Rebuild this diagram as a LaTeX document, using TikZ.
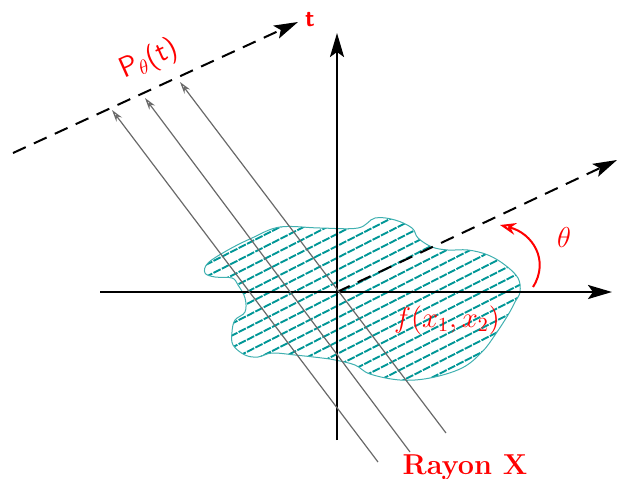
\documentclass[tikz,border=0pt]{standalone}
\usepackage{amsmath}
\usetikzlibrary{arrows.meta, calc}

\definecolor{hatchteal}{RGB}{0,150,150}
\definecolor{raygray}{RGB}{105,105,105}

% outline of the object
\newcommand{\blobshape}{plot[smooth cycle, tension=0.6] coordinates {
    (280,251) (320,250) (358,250) (375,260) (395,258) (412,250) (418,240)
    (432,231) (448,228) (468,228) (488,223) (505,213) (518,200) (520,186)
    (515,176) (508,163) (495,143) (482,126) (462,110) (430,100) (400,98)
    (370,104) (355,113) (335,118) (322,120) (295,123) (272,125) (258,121)
    (245,123) (233,133) (232,146) (235,158) (245,166) (245,180) (238,193)
    (232,200) (215,201) (205,205) (208,215) (228,228) (252,240)}}

\begin{document}
\begin{tikzpicture}[
    x=0.5pt, y=0.5pt,
    axis/.style={line width=1.2pt, -{Stealth[length=12pt, width=7pt, inset=2.5pt]}},
    dashaxis/.style={axis, line width=1pt, dash pattern=on 7pt off 4.5pt},
    ray/.style={raygray, line width=0.6pt, -{Stealth[length=6pt, width=3.5pt, open]}},
    hatch/.style={hatchteal, line width=0.95pt, dash pattern=on 4pt off 0.7pt},
    outline/.style={hatchteal!75, line width=0.5pt},
    lbl/.style={text=red, font=\Large}
]
\useasboundingbox (0,0) rectangle (619,478);

% object f(x1,x2), hatched
\begin{scope}
  \clip \blobshape;
  \foreach \c in {-20,-8,...,350}
    \draw[hatch] (180,\c-80) -- (540,\c+103.5);
\end{scope}
\draw[outline] \blobshape;

% key points
\coordinate (O) at (337,186);
\coordinate (xl) at (100,186);
\coordinate (xr) at (612,186);
\coordinate (yb) at (337,38);
\coordinate (yt) at (337,445);
\coordinate (th) at (617,318);
\coordinate (tl) at (13,325);
\coordinate (tr) at (298,456);

% axes
\draw[axis] (xl) -- (xr);
\draw[axis] (yb) -- (yt);
\draw[dashaxis] (O) -- (th);
\draw[dashaxis] (tl) -- (tr);

% rays
\foreach \i/\bx/\by/\tx/\ty in {1/378/16/112/368, 2/410/26/145/380, 3/446/45/180/396} {
  \coordinate (r\i a) at (\bx,\by);
  \coordinate (r\i b) at (\tx,\ty);
  \draw[ray] (r\i a) -- (r\i b);
}

% angle
\coordinate (a1) at (533,191);
\coordinate (a2) at (500,253);
\draw[red, line width=1pt, -{Stealth[length=8pt, width=6pt, open]}]
  (a1) .. controls (550,218) and (532,245) .. (a2);

% labels
\node[lbl, font=\sffamily\Large, rotate=24, inner sep=1pt] (ptheta) at (149,418) {P$_\theta$(t)};
\node[lbl, font=\sffamily\bfseries\large] (tlab) at (310,458) {t};
\node[lbl] (thlab) at (564,241) {$\theta$};
\node[lbl] (flab) at (447,158) {$f(x_1,x_2)$};
\node[lbl, font=\bfseries\Large] (rayon) at (465,11) {Rayon X};

\end{tikzpicture}
\end{document}
